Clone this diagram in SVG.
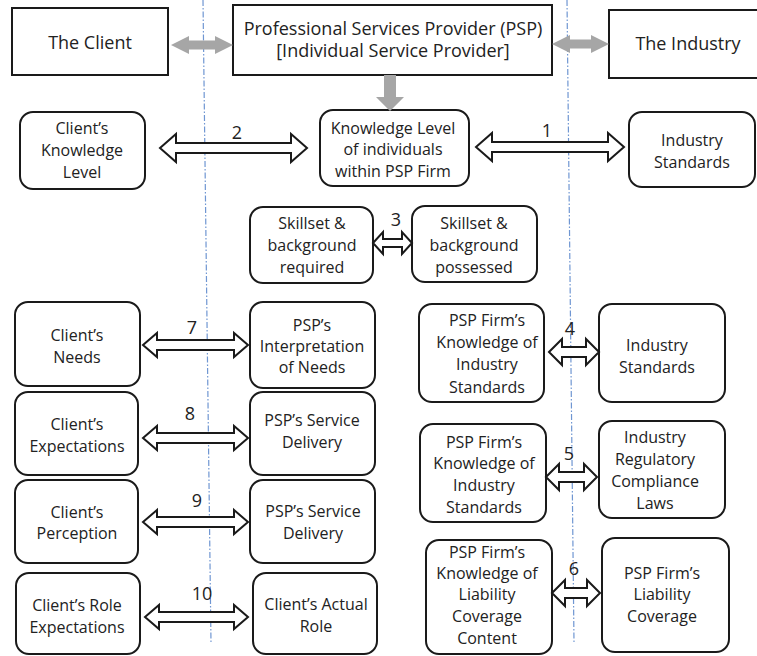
<svg xmlns="http://www.w3.org/2000/svg" width="757" height="656" viewBox="0 0 757 656">
<style>
.box{fill:#fff;stroke:#1a1a1a;stroke-width:2}
.t{font-family:"Open Sans","Liberation Sans",sans-serif;font-size:16px;fill:#222;text-anchor:middle}
.tb{font-family:"Open Sans","Liberation Sans",sans-serif;font-size:18px;fill:#222;text-anchor:middle}
.n{font-family:"Open Sans","Liberation Sans",sans-serif;font-size:18px;fill:#222;text-anchor:middle}
.arr{fill:#fff;stroke:#1a1a1a;stroke-width:2;stroke-linejoin:miter}
.garr{fill:#a6a6a6}
.guide{stroke:#6f96d2;stroke-width:1.2;stroke-dasharray:6 2 1.5 2;fill:none}
</style>
<rect width="757" height="656" fill="#fff"/>
<g id="guides">
<line class="guide" x1="203" y1="0" x2="211" y2="643"/>
<line class="guide" x1="567" y1="0" x2="574" y2="643"/>
</g>
<g id="client"><rect class="box" x="12" y="8" width="156" height="67"/><text class="tb" x="90" y="49">The Client</text></g>
<g id="psp"><rect class="box" x="233" y="5" width="319" height="70"/><text class="tb" x="393" y="35">Professional Services Provider (PSP)</text><text class="tb" x="393" y="57">[Individual Service Provider]</text></g>
<g id="industry"><rect class="box" x="609" y="10" width="160" height="68"/><text class="tb" x="688" y="50">The Industry</text></g>
<g id="clientKnowledge"><rect class="box" x="20" y="112" width="125" height="77" rx="13"/><text class="t" x="82" y="134">Client’s</text><text class="t" x="82" y="156">Knowledge</text><text class="t" x="82" y="178">Level</text></g>
<g id="pspKnowledge"><rect class="box" x="320" y="110" width="149" height="76" rx="13"/><text class="t" x="393" y="134">Knowledge Level</text><text class="t" x="393" y="155">of individuals</text><text class="t" x="393" y="177">within PSP Firm</text></g>
<g id="industryStandards1"><rect class="box" x="629" y="112" width="126" height="75" rx="13"/><text class="t" x="692" y="146">Industry</text><text class="t" x="692" y="168">Standards</text></g>
<g id="skillRequired"><rect class="box" x="250" y="207" width="123" height="76" rx="13"/><text class="t" x="312" y="229">Skillset &amp;</text><text class="t" x="312" y="251">background</text><text class="t" x="312" y="273">required</text></g>
<g id="skillPossessed"><rect class="box" x="412" y="206" width="125" height="76" rx="13"/><text class="t" x="474" y="229">Skillset &amp;</text><text class="t" x="474" y="251">background</text><text class="t" x="474" y="273">possessed</text></g>
<g id="clientNeeds"><rect class="box" x="15" y="302" width="125" height="84" rx="13"/><text class="t" x="77" y="341">Client’s</text><text class="t" x="77" y="363">Needs</text></g>
<g id="pspInterpretation"><rect class="box" x="250" y="302" width="125" height="86" rx="13"/><text class="t" x="312" y="331">PSP’s</text><text class="t" x="312" y="352">Interpretation</text><text class="t" x="312" y="373">of Needs</text></g>
<g id="firmKnowledgeStd1"><rect class="box" x="419" y="304" width="125" height="98" rx="13"/><text class="t" x="487" y="326">PSP Firm’s</text><text class="t" x="487" y="348">Knowledge of</text><text class="t" x="487" y="370">Industry</text><text class="t" x="487" y="393">Standards</text></g>
<g id="industryStandards2"><rect class="box" x="599" y="304" width="126" height="98" rx="13"/><text class="t" x="657" y="351">Industry</text><text class="t" x="657" y="373">Standards</text></g>
<g id="clientExpectations"><rect class="box" x="15" y="392" width="123" height="83" rx="13"/><text class="t" x="77" y="430">Client’s</text><text class="t" x="77" y="452">Expectations</text></g>
<g id="pspDelivery1"><rect class="box" x="250" y="392" width="125" height="83" rx="13"/><text class="t" x="312" y="426">PSP’s Service</text><text class="t" x="312" y="448">Delivery</text></g>
<g id="clientPerception"><rect class="box" x="15" y="480" width="123" height="83" rx="13"/><text class="t" x="77" y="518">Client’s</text><text class="t" x="77" y="539">Perception</text></g>
<g id="pspDelivery2"><rect class="box" x="250" y="480" width="125" height="83" rx="13"/><text class="t" x="313" y="517">PSP’s Service</text><text class="t" x="313" y="539">Delivery</text></g>
<g id="clientRole"><rect class="box" x="16" y="573" width="124" height="81" rx="13"/><text class="t" x="77" y="611">Client’s Role</text><text class="t" x="77" y="633">Expectations</text></g>
<g id="clientActualRole"><rect class="box" x="253" y="573" width="124" height="81" rx="13"/><text class="t" x="316" y="610">Client’s Actual</text><text class="t" x="316" y="632">Role</text></g>
<g id="firmKnowledgeStd2"><rect class="box" x="420" y="424" width="126" height="98" rx="13"/><text class="t" x="484" y="448">PSP Firm’s</text><text class="t" x="484" y="469">Knowledge of</text><text class="t" x="484" y="491">Industry</text><text class="t" x="484" y="513">Standards</text></g>
<g id="regulatory"><rect class="box" x="599" y="421" width="126" height="97" rx="13"/><text class="t" x="655" y="443">Industry</text><text class="t" x="655" y="465">Regulatory</text><text class="t" x="655" y="487">Compliance</text><text class="t" x="655" y="509">Laws</text></g>
<g id="firmLiabilityKnowledge"><rect class="box" x="426" y="540" width="126" height="114" rx="13"/><text class="t" x="487" y="558">PSP Firm’s</text><text class="t" x="487" y="579">Knowledge of</text><text class="t" x="487" y="600">Liability</text><text class="t" x="487" y="622">Coverage</text><text class="t" x="487" y="644">Content</text></g>
<g id="firmLiability"><rect class="box" x="602" y="538" width="127" height="114" rx="13"/><text class="t" x="662" y="579">PSP Firm’s</text><text class="t" x="662" y="600">Liability</text><text class="t" x="662" y="622">Coverage</text></g>
<g id="connectors">
<path class="garr" d="M171 45 L189 36 L189 40.5 L215 40.5 L215 36 L233 45 L215 54 L215 49.5 L189 49.5 L189 54 Z"/>
<path class="garr" d="M552 44 L570 35 L570 39.5 L591 39.5 L591 35 L609 44 L591 53 L591 48.5 L570 48.5 L570 53 Z"/>
<path class="garr" d="M384 75 L396 75 L396 97 L404 97 L390 111 L376 97 L384 97 Z"/>
<path class="arr" d="M160 148 L176 134 L176 143 L291 143 L291 134 L307 148 L291 162 L291 153 L176 153 L176 162 Z"/>
<path class="arr" d="M476 147 L492 133 L492 142 L608 142 L608 133 L624 147 L608 161 L608 152 L492 152 L492 161 Z"/>
<path class="arr" d="M373 243 L383 232 L383 239 L402 239 L402 232 L412 243 L402 254 L402 247 L383 247 L383 254 Z"/>
<path class="arr" d="M143 345 L157 333 L157 340 L234 340 L234 333 L248 345 L234 357 L234 350 L157 350 L157 357 Z"/>
<path class="arr" d="M549 352 L562 339 L562 347 L586 347 L586 339 L599 352 L586 365 L586 357 L562 357 L562 365 Z"/>
<path class="arr" d="M143 438 L157 426 L157 433 L234 433 L234 426 L248 438 L234 450 L234 443 L157 443 L157 450 Z"/>
<path class="arr" d="M143 522 L157 510 L157 517 L234 517 L234 510 L248 522 L234 534 L234 527 L157 527 L157 534 Z"/>
<path class="arr" d="M145 617 L159 605 L159 612 L234 612 L234 605 L248 617 L234 629 L234 622 L159 622 L159 629 Z"/>
<path class="arr" d="M546 477 L559 464 L559 472 L584 472 L584 464 L597 477 L584 490 L584 482 L559 482 L559 490 Z"/>
<path class="arr" d="M552 593 L565 580 L565 588 L587 588 L587 580 L600 593 L587 606 L587 598 L565 598 L565 606 Z"/>
<text class="n" x="237" y="139">2</text>
<text class="n" x="547" y="137">1</text>
<text class="n" x="396" y="226">3</text>
<text class="n" x="192" y="334">7</text>
<text class="n" x="570" y="335">4</text>
<text class="n" x="190" y="420">8</text>
<text class="n" x="197" y="507">9</text>
<text class="n" x="202" y="600">10</text>
<text class="n" x="569" y="460">5</text>
<text class="n" x="574" y="575">6</text>
</g>
</svg>
